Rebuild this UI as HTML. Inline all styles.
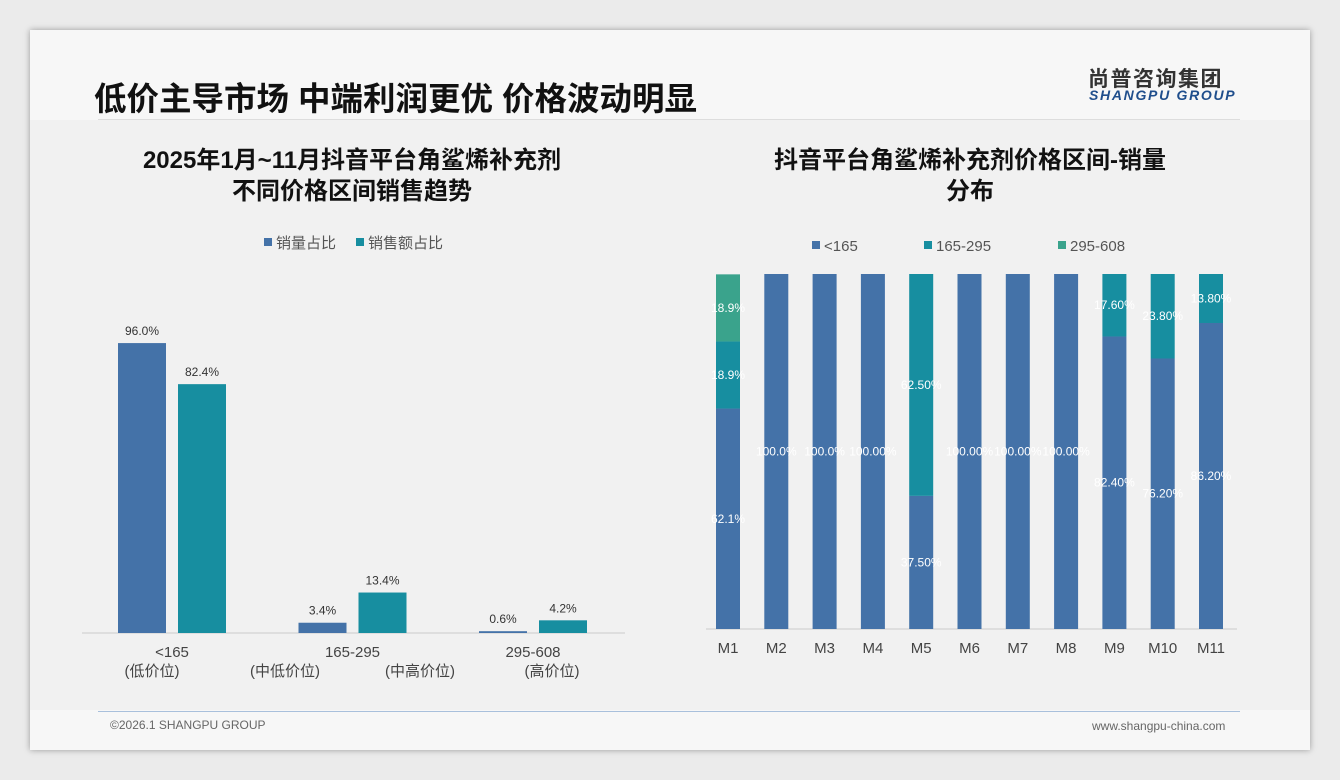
<!DOCTYPE html>
<html><head><meta charset="utf-8"><style>
body{margin:0;width:1340px;height:780px;background:#ebebeb;font-family:"Liberation Sans","Noto Sans CJK SC",sans-serif;overflow:hidden}
#card{position:absolute;left:30px;top:30px;width:1280px;height:720px;background:#f7f7f7;box-shadow:0 0 6px rgba(0,0,0,.35)}
.abs{position:absolute}
</style></head><body>
<div id="card">
<div class="abs" style="left:0;top:90px;width:1280px;height:590px;background:#f1f1f1"></div>
<div class="abs" style="left:64px;top:43px;font-size:32.5px;font-weight:bold;color:#111;white-space:nowrap">低价主导市场 中端利润更优 价格波动明显</div>
<div class="abs" style="left:68px;top:89px;width:1142px;height:1px;background:#ddd"></div>
<div class="abs" style="left:1058px;top:33px;font-size:21px;font-weight:bold;color:#333;letter-spacing:1.5px">尚普咨询集团</div>
<div class="abs" style="left:1059px;top:57px;font-size:14px;font-weight:bold;font-style:italic;color:#1f4e8c;letter-spacing:1.7px">SHANGPU GROUP</div>
<div class="abs" style="left:68px;top:681px;width:1142px;height:1px;background:#a9c0dc"></div>
<div class="abs" style="left:80px;top:688px;font-size:12px;color:#666">©2026.1 SHANGPU GROUP</div>
<div class="abs" style="left:1062px;top:689px;font-size:12px;color:#666">www.shangpu-china.com</div>
</div>
<svg class="abs" style="left:0;top:0" width="1340" height="780">
<text x="352" y="168" text-anchor="middle" font-size="24" font-weight="bold" fill="#111">2025年1月~11月抖音平台角鲨烯补充剂</text>
<text x="352" y="199" text-anchor="middle" font-size="24" font-weight="bold" fill="#111">不同价格区间销售趋势</text>
<text x="970" y="168" text-anchor="middle" font-size="24" font-weight="bold" fill="#111">抖音平台角鲨烯补充剂价格区间-销量</text>
<text x="970" y="199" text-anchor="middle" font-size="24" font-weight="bold" fill="#111">分布</text>
<g id="left"></g>
<g id="right"></g>
</svg>
<script>
const leftCats=["<165","165-295","295-608"];
const leftSubs=["(低价位)","(中低价位)","(中高价位)","(高价位)"];
const qtyShare=[96.0,3.4,0.6];
const amtShare=[82.4,13.4,4.2];
const rightCats=["M1","M2","M3","M4","M5","M6","M7","M8","M9","M10","M11"];
const low=[62.1,100,100,100,37.5,100,100,100,82.4,76.2,86.2];
const mid=[18.9,0,0,0,62.5,0,0,0,17.6,23.8,13.8];
const high=[18.9,0,0,0,0,0,0,0,0,0,0];
const lowLbl=["62.1%","100.0%","100.0%","100.00%","37.50%","100.00%","100.00%","100.00%","82.40%","76.20%","86.20%"];
const midLbl=["18.9%","","","","62.50%","","","","17.60%","23.80%","13.80%"];
const highLbl=["18.9%","","","","","","","","","",""];
const NS="http://www.w3.org/2000/svg";
function mk(p,t,a,txt){const e=document.createElementNS(NS,t);for(const k in a)e.setAttribute(k,a[k]);if(txt!==undefined)e.textContent=txt;p.appendChild(e);return e;}
const C1="#4472a8",C2="#178ea0",C3="#3aa38c";
const L=document.getElementById('left');
const base=633,ys=v=>base-v*3.02;
const gx=i=>118+i*180.5;
let e;
e=mk(L,'line',{x1:82,x2:625,y1:base,y2:base,stroke:'#ccc'});


leftCats.forEach((c,i)=>{
 const x=gx(i);
 e=mk(L,'rect',{x:x,y:ys(qtyShare[i]),width:48,height:qtyShare[i]*3.02,fill:C1});
 
 
 e=mk(L,'text',{x:x+24,y:ys(qtyShare[i])-8,'text-anchor':'middle','font-size':12,fill:'#333'},qtyShare[i].toFixed(1)+'%');
 
 
 e=mk(L,'rect',{x:x+60,y:ys(amtShare[i]),width:48,height:amtShare[i]*3.02,fill:C2});
 
 
 e=mk(L,'text',{x:x+84,y:ys(amtShare[i])-8,'text-anchor':'middle','font-size':12,fill:'#333'},amtShare[i].toFixed(1)+'%');
 
 
 e=mk(L,'text',{x:x+54,y:657,'text-anchor':'middle','font-size':15,fill:'#444'},c);
 
 
});
[152,285,420,552].forEach((x,i)=>{
 e=mk(L,'text',{x:x,y:676,'text-anchor':'middle','font-size':15,fill:'#444'},leftSubs[i]);
 
 
});
[[264,C1,'销量占比'],[356,C2,'销售额占比']].forEach(([x,c,t])=>{
 e=mk(L,'rect',{x:x,y:238,width:8,height:8,fill:c});
 
 
 e=mk(L,'text',{x:x+12,y:248,'font-size':15,fill:'#555'},t);
 
 
});
const R=document.getElementById('right');
const rb=629,rs=355/100;
const rx=i=>716+i*48.3;
e=mk(R,'line',{x1:706,x2:1237,y1:rb,y2:rb,stroke:'#ccc'});


rightCats.forEach((c,i)=>{
 const x=rx(i);let y=rb;
 [[low,C1,lowLbl,'low'],[mid,C2,midLbl,'mid'],[high,C3,highLbl,'high']].forEach(([arr,col,lb,n])=>{
  const h=arr[i]*rs; if(h<=0)return; y-=h;
  e=mk(R,'rect',{x:x,y:y,width:24,height:h,fill:col});
  
  
  e=mk(R,'text',{x:x+12,y:y+h/2+4,'text-anchor':'middle','font-size':12,fill:'#fff'},lb[i]);
  
  
 });
 e=mk(R,'text',{x:x+12,y:653,'text-anchor':'middle','font-size':15,fill:'#444'},c);
 
 
});
[[812,C1,'<165'],[924,C2,'165-295'],[1058,C3,'295-608']].forEach(([x,c,t])=>{
 e=mk(R,'rect',{x:x,y:241,width:8,height:8,fill:c});
 
 
 e=mk(R,'text',{x:x+12,y:251,'font-size':15,fill:'#555'},t);
 
 
});
</script>
</body></html>
